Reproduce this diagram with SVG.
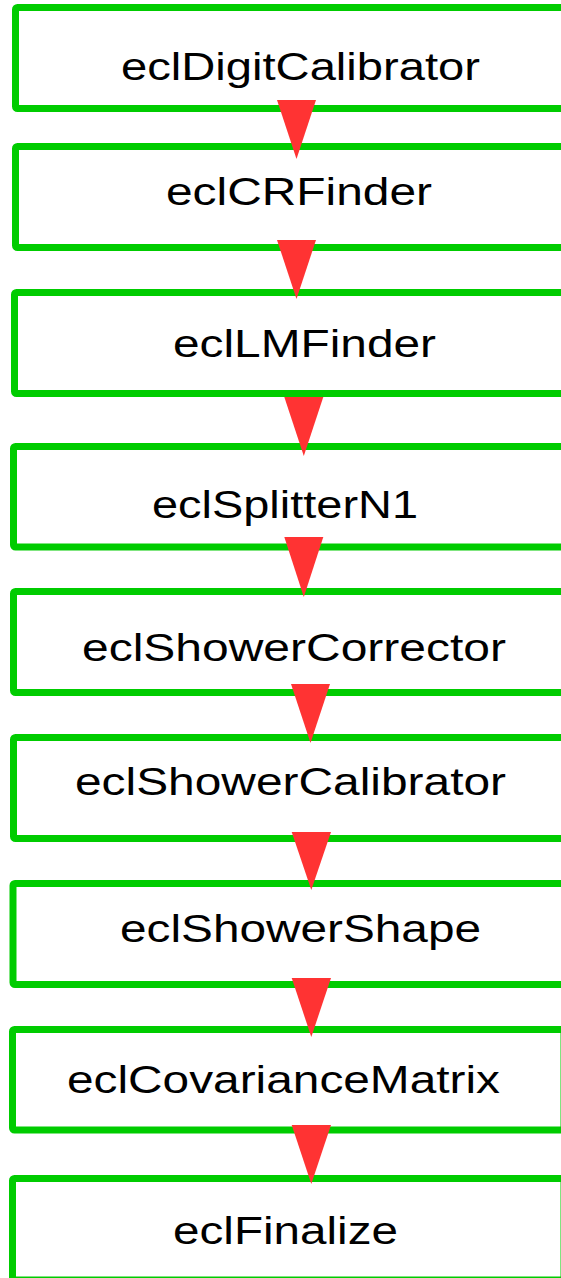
<svg xmlns="http://www.w3.org/2000/svg" width="561" height="1278" viewBox="0 0 561 1278">
  <style>
    .box { fill: #ffffff; stroke: #00cc00; stroke-width: 7; }
    .label { font-family: "Liberation Sans", Arial, sans-serif; font-size: 38px; fill: #000000; }
    .arrow { fill: #ff3333; stroke: none; }
  </style>
  <rect width="561" height="1278" fill="#ffffff"/>

  <!-- processing modules -->
  <g id="node-eclDigitCalibrator">
    <rect class="box" x="15.5" y="7.5" width="600" height="101" rx="2"/>
    <text class="label" x="121" y="80" textLength="359" lengthAdjust="spacingAndGlyphs">eclDigitCalibrator</text>
  </g>
  <g id="node-eclCRFinder">
    <rect class="box" x="15.5" y="146.5" width="600" height="101" rx="2"/>
    <text class="label" x="166" y="205" textLength="266" lengthAdjust="spacingAndGlyphs">eclCRFinder</text>
  </g>
  <g id="node-eclLMFinder">
    <rect class="box" x="14.5" y="292.5" width="600" height="101" rx="2"/>
    <text class="label" x="173" y="357" textLength="263" lengthAdjust="spacingAndGlyphs">eclLMFinder</text>
  </g>
  <g id="node-eclSplitterN1">
    <rect class="box" x="13.5" y="446.5" width="600" height="100.5" rx="2"/>
    <text class="label" x="152" y="518" textLength="266" lengthAdjust="spacingAndGlyphs">eclSplitterN1</text>
  </g>
  <g id="node-eclShowerCorrector">
    <rect class="box" x="13.5" y="591.5" width="600" height="101" rx="2"/>
    <text class="label" x="82" y="661" textLength="424" lengthAdjust="spacingAndGlyphs">eclShowerCorrector</text>
  </g>
  <g id="node-eclShowerCalibrator">
    <rect class="box" x="13.5" y="737.5" width="600" height="101" rx="2"/>
    <text class="label" x="75" y="795" textLength="431" lengthAdjust="spacingAndGlyphs">eclShowerCalibrator</text>
  </g>
  <g id="node-eclShowerShape">
    <rect class="box" x="13" y="883.5" width="600" height="101" rx="2"/>
    <text class="label" x="120" y="942" textLength="361" lengthAdjust="spacingAndGlyphs">eclShowerShape</text>
  </g>
  <g id="node-eclCovarianceMatrix">
    <rect class="box" x="12.5" y="1029.5" width="551.5" height="100.5" rx="2"/>
    <text class="label" x="67" y="1093" textLength="433" lengthAdjust="spacingAndGlyphs">eclCovarianceMatrix</text>
  </g>
  <g id="node-eclFinalize">
    <rect class="box" x="12.5" y="1178.5" width="551.5" height="101.5" rx="2"/>
    <text class="label" x="173" y="1244" textLength="225" lengthAdjust="spacingAndGlyphs">eclFinalize</text>
  </g>

  <!-- flow arrows between consecutive modules -->
  <g id="connectors">
    <polygon class="arrow" points="277,100 316,100 296.5,159"/>
    <polygon class="arrow" points="277,240 316,240 296.5,299"/>
    <polygon class="arrow" points="284.3,397 323.3,397 303.8,456"/>
    <polygon class="arrow" points="284.3,537 323.3,537 303.8,597"/>
    <polygon class="arrow" points="291,684 330,684 310.5,743"/>
    <polygon class="arrow" points="291.7,832 331,832 311.3,890"/>
    <polygon class="arrow" points="291.7,978 331,978 311.3,1037"/>
    <polygon class="arrow" points="291.7,1125 331,1125 311.3,1184"/>
  </g>
</svg>
